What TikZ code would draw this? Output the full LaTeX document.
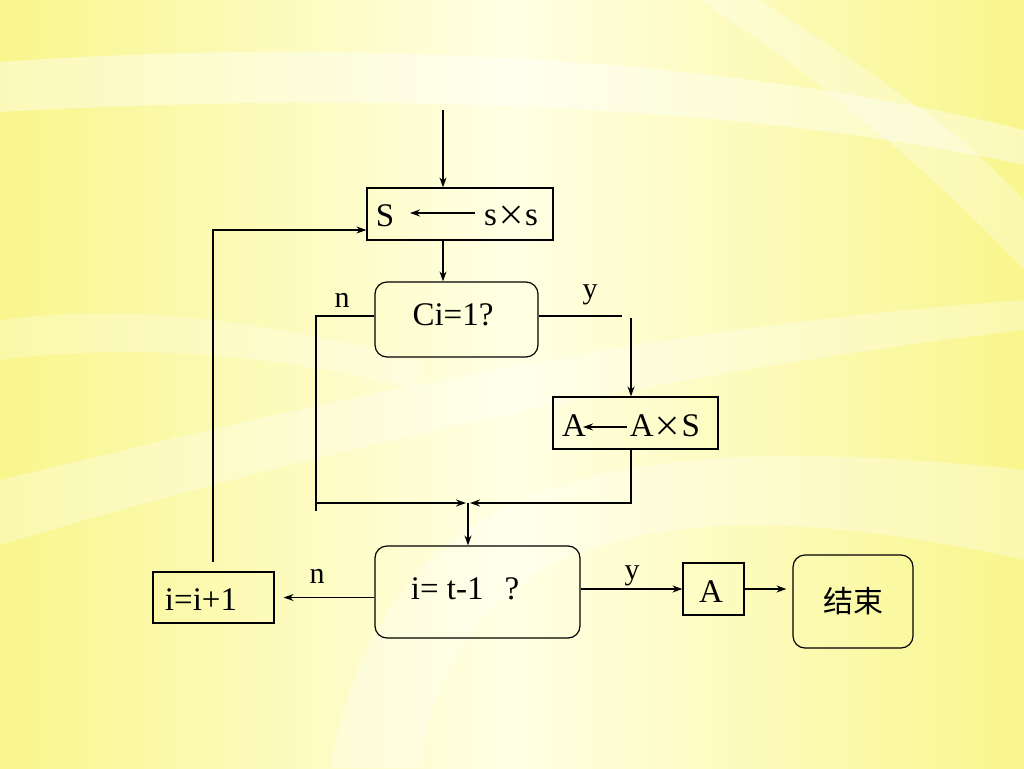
\documentclass[tikz,border=0pt]{standalone}
\usepackage{fontspec}
\setmainfont{Liberation Serif}
\newfontfamily\cjk{Noto Sans CJK SC}
\usetikzlibrary{arrows.meta,calc}
\definecolor{bgY}{RGB}{249,246,140}
\definecolor{bgL}{RGB}{255,255,228}
\newcommand{\bigx}{{\cjk\fontsize{28}{30}\selectfont ×}}
\begin{document}
\begin{tikzpicture}[x=1pt,y=-1pt,
  arr/.style={-{Stealth[length=10pt,width=7pt]}},
  line/.style={line width=1.2pt},
  box/.style={draw,line width=1.2pt,inner sep=0pt,minimum width=#1},
  rbox/.style={draw,line width=1.2pt,rounded corners=12pt,inner sep=0pt},
  txt/.style={inner sep=0pt,font=\fontsize{33}{38}\selectfont},
  lbl/.style={inner sep=0pt,font=\fontsize{30}{34}\selectfont}]
\useasboundingbox (0,0) rectangle (1024,768);
% background
\shade[left color=bgY, right color=bgY, middle color=bgL] (0,0) rectangle (1024,768);
\fill[white,opacity=0.4] (0,62) .. controls (300,40) and (700,50) .. (1024,130) -- (1024,165) .. controls (700,95) and (300,95) .. (0,112) -- cycle;
\fill[white,opacity=0.3] (0,480) .. controls (250,420) and (600,330) .. (1024,300) -- (1024,330) .. controls (600,380) and (250,470) .. (0,545) -- cycle;
\fill[white,opacity=0.3] (330,768) .. controls (380,500) and (560,420) .. (1024,470) -- (1024,560) .. controls (620,470) and (450,560) .. (420,768) -- cycle;
\fill[white,opacity=0.3] (760,0) .. controls (850,60) and (950,120) .. (1024,200) -- (1024,270) .. controls (930,170) and (820,80) .. (700,0) -- cycle;
\fill[white,opacity=0.25] (0,320) .. controls (150,300) and (300,330) .. (420,360) -- (420,390) .. controls (300,360) and (150,340) .. (0,360) -- cycle;
% nodes
\node[box=186pt,minimum height=52pt] (sbox) at (460,214) {};
\node[rbox,minimum width=163pt,minimum height=75pt] (ci) at (456.5,319.5) {};
\node[box=165pt,minimum height=52pt] (abox) at (635.5,423) {};
\node[rbox,minimum width=205pt,minimum height=92pt] (it) at (477.5,592) {};
\node[box=121pt,minimum height=51pt] (inc) at (213.5,597.5) {};
\node[box=61pt,minimum height=52pt] (afin) at (713.5,589) {};
\node[rbox,minimum width=120pt,minimum height=93pt] (end) at (853,601.5) {};
% texts
\node[txt] (tS) at (385,216) {S};
\node[txt] (tsxs) at (511,216) {s\bigx s};
\node[txt] (tci) at (453,315) {Ci=1?};
\node[txt] (tA1) at (574,426) {A};
\node[txt] (tAxS) at (665,426) {A\bigx S};
\node[txt] (tit) at (465,589) {i= t-1\hspace{21pt}?};
\node[txt] (tinc) at (201,600) {i=i+1};
\node[txt] (tA2) at (711,592) {A};
\node[inner sep=0pt,font=\cjk\fontsize{30}{34}\selectfont] (tend) at (853,601) {结束};
\node[lbl] (ln1) at (342,300) {n};
\node[lbl] (ly1) at (590,295) {y};
\node[lbl] (ln2) at (317,576) {n};
\node[lbl] (ly2) at (632,576) {y};
% coordinates
\coordinate (top) at (443,110);
\coordinate (s1) at (475,213);
\coordinate (s2) at (410,213);
\coordinate (lp) at (213,562);
\coordinate (nl) at (316,511);
\coordinate (yend) at (622,316);
\coordinate (ystart) at (631,318);
\coordinate (a1) at (627,427);
\coordinate (a2) at (583,427);
\coordinate (merge) at (468,503);
% connectors
\draw[line,arr] (top) -- (top |- sbox.north);
\draw[line,arr] (s1) -- (s2);
\draw[line,arr] (top |- sbox.south) -- (top |- ci.north);
\draw[line,arr] (lp) |- ([yshift=-16pt]sbox.west);
\draw[line] ([yshift=3.5pt]ci.west) -| (nl);
\draw[line] ([yshift=3.5pt]ci.east) -- (yend);
\draw[line,arr] (ystart) -- (ystart |- abox.north);
\draw[line,arr] (a1) -- (a2);
\draw[line,arr] (ystart |- abox.south) |- ([xshift=2pt]merge);
\draw[line,arr] (nl |- merge) -- ([xshift=-2pt]merge);
\draw[line,arr] (merge) -- (merge |- it.north);
\draw[line,arr] (it.west |- inc.east) -- ([xshift=9pt]inc.east);
\draw[line,arr] (it.east |- afin.west) -- (afin.west);
\draw[line,arr] (afin.east) -- ([xshift=-6pt]end.west |- afin.east);
\end{tikzpicture}
\end{document}
